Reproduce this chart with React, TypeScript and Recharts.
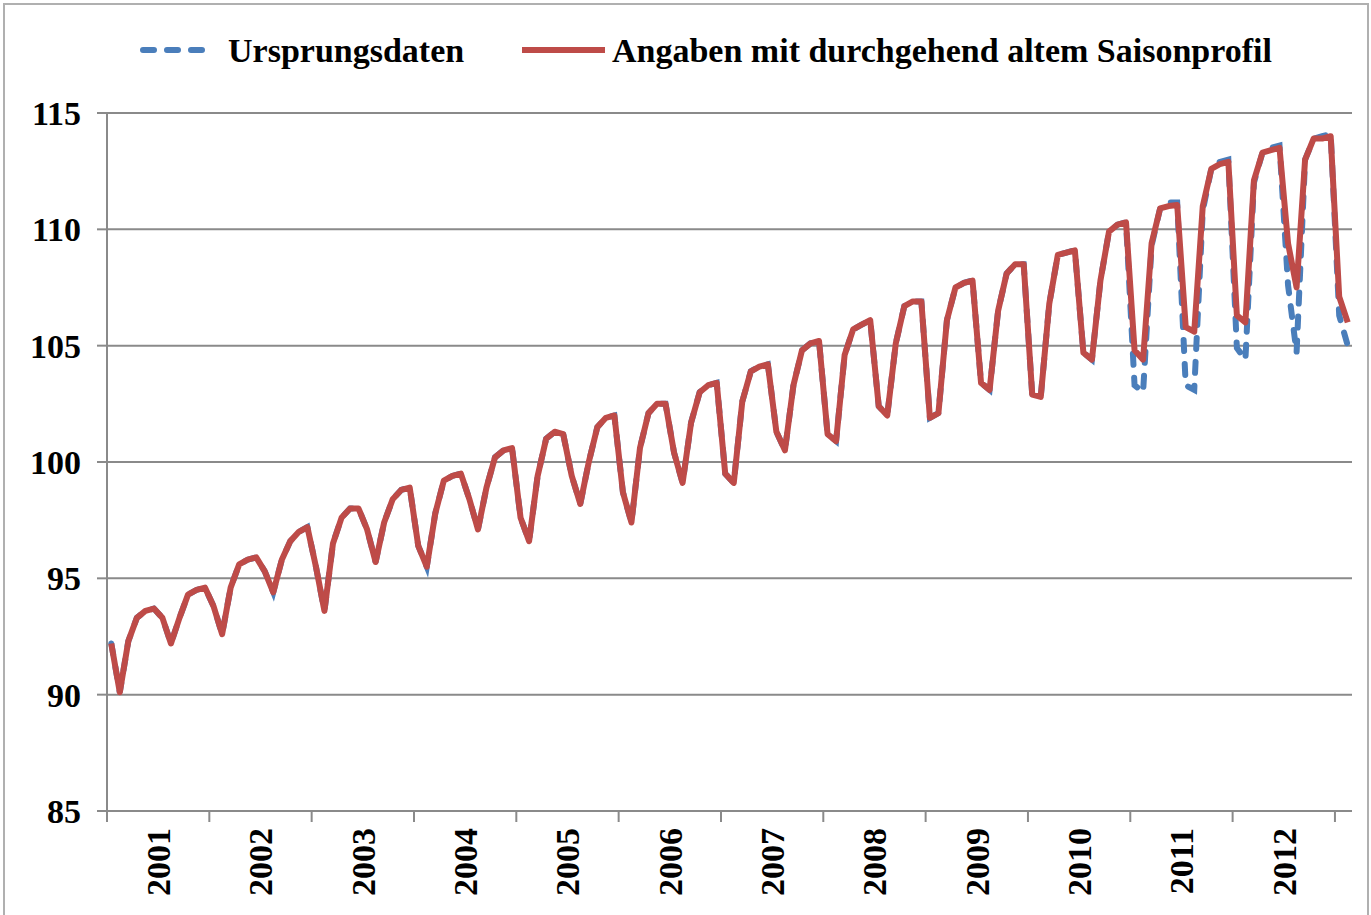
import React from 'react';
import { LineChart, Line, XAxis, YAxis, CartesianGrid, Legend } from 'recharts';

const years = ['2001', '2002', '2003', '2004', '2005', '2006', '2007', '2008', '2009', '2010', '2011', '2012'];

// monthly values Jan 2001 - Feb 2013
const adjusted = [
  92.2, 90.1, 92.3, 93.3, 93.6, 93.7, 93.3, 92.2, 93.3, 94.3, 94.5, 94.6,
  93.8, 92.6, 94.6, 95.6, 95.8, 95.9, 95.3, 94.4, 95.8, 96.6, 97.0, 97.2,
  95.5, 93.6, 96.5, 97.6, 98.0, 98.0, 97.1, 95.7, 97.4, 98.4, 98.8, 98.9,
  96.4, 95.5, 97.8, 99.2, 99.4, 99.5, 98.4, 97.1, 98.9, 100.2, 100.5, 100.6,
  97.6, 96.6, 99.4, 101.0, 101.3, 101.2, 99.4, 98.2, 100.0, 101.5, 101.9, 102.0,
  98.7, 97.4, 100.6, 102.1, 102.5, 102.5, 100.4, 99.1, 101.7, 103.0, 103.3, 103.4,
  99.5, 99.1, 102.6, 103.9, 104.1, 104.2, 101.3, 100.5, 103.3, 104.8, 105.1, 105.2,
  101.2, 100.9, 104.6, 105.7, 105.9, 106.1, 102.4, 102.0, 105.1, 106.7, 106.9, 106.9,
  101.9, 102.1, 106.1, 107.5, 107.7, 107.8, 103.4, 103.1, 106.5, 108.1, 108.5, 108.5,
  102.9, 102.8, 106.8, 108.9, 109.0, 109.1, 104.7, 104.4, 107.8, 109.9, 110.2, 110.3,
  104.8, 104.4, 109.4, 110.9, 111.0, 111.05, 105.8, 105.6, 111.0, 112.6, 112.8, 112.9,
  106.3, 106.0, 112.1, 113.3, 113.4, 113.5, 109.4, 107.5, 113.0, 113.9, 113.9, 114.0,
  107.1, 106.0,
];

const original = [
  92.2, 90.1, 92.3, 93.3, 93.6, 93.7, 93.3, 92.2, 93.3, 94.3, 94.5, 94.6,
  93.8, 92.6, 94.6, 95.6, 95.8, 95.9, 95.3, 94.4, 95.8, 96.6, 97.0, 97.2,
  95.5, 93.6, 96.5, 97.6, 98.0, 98.0, 97.1, 95.7, 97.4, 98.4, 98.8, 98.9,
  96.4, 95.5, 97.8, 99.2, 99.4, 99.5, 98.4, 97.1, 98.9, 100.2, 100.5, 100.6,
  97.6, 96.6, 99.4, 101.0, 101.3, 101.2, 99.4, 98.2, 100.0, 101.5, 101.9, 102.0,
  98.7, 97.4, 100.6, 102.1, 102.5, 102.5, 100.4, 99.1, 101.7, 103.0, 103.3, 103.4,
  99.5, 99.1, 102.6, 103.9, 104.1, 104.2, 101.3, 100.5, 103.3, 104.8, 105.1, 105.2,
  101.2, 100.9, 104.6, 105.7, 105.9, 106.1, 102.4, 102.0, 105.1, 106.7, 106.9, 106.9,
  101.9, 102.1, 106.1, 107.5, 107.7, 107.8, 103.4, 103.1, 106.5, 108.1, 108.5, 108.5,
  102.9, 102.8, 106.8, 108.9, 109.0, 109.1, 104.7, 104.4, 107.8, 109.9, 110.2, 110.3,
  103.3, 103.0, 109.3, 110.9, 111.15, 111.15, 103.3, 103.1, 110.8, 112.6, 112.9, 113.0,
  104.9, 104.4, 112.0, 113.3, 113.5, 113.6, 107.6, 104.7, 113.0, 113.9, 114.0, 114.1,
  106.3, 105.0,
];

const yTicks = [85, 90, 95, 100, 105, 110, 115];
const xTicks = Array.from({ length: 25 }, (_, k) => k * 6);

const legendItems = [
  { label: 'Ursprungsdaten' },
  { label: 'Angaben mit durchgehend altem Saisonprofil' },
];

const data = adjusted.map((v, i) => ({ x: i + 0.5, adj: v, orig: original[i] }));

const FONT = "'Liberation Serif', 'Times New Roman', serif";
const GRID = '#8a8a8a';
const BLUE = '#4A7EBB';
const RED = '#BE4B48';

const XTick = (props: any) => {
  const { x, y, payload } = props;
  const v = payload.value;
  if (v % 12 === 0) {
    return <line x1={x} x2={x} y1={y} y2={y + 11} stroke={GRID} strokeWidth={2} />;
  }
  const label = years[(v - 6) / 12];
  if (!label) return null;
  const ay = y + 17;
  return (
    <text
      x={x}
      y={ay}
      transform={`rotate(-90 ${x} ${ay})`}
      textAnchor="end"
      dy="0.35em"
      fontFamily={FONT}
      fontWeight="bold"
      fontSize={34}
      fill="#000"
    >
      {label}
    </text>
  );
};

const renderLegend = () => (
  <svg width={1371} height={90} style={{ display: 'block' }}>
    <line x1={143} x2={208} y1={50} y2={50} stroke={BLUE} strokeWidth={6} strokeDasharray="11 13" strokeLinecap="round" />
    <text x={228} y={62} fontFamily={FONT} fontWeight="bold" fontSize={34} fill="#000">{legendItems[0].label}</text>
    <line x1={522} x2={605} y1={50} y2={50} stroke={RED} strokeWidth={6} />
    <text x={612} y={62} fontFamily={FONT} fontWeight="bold" fontSize={34} fill="#000">{legendItems[1].label}</text>
  </svg>
);

export default function App() {
  return (
    <div style={{ position: 'absolute', left: 0, top: 0, width: 1371, height: 915, background: '#fff', overflow: 'hidden' }}>
      <div style={{ position: 'absolute', left: 3, top: 3, width: 1362, height: 930, border: '2px solid #b0b0b0' }} />
      <LineChart width={1371} height={915} data={data} margin={{ top: 113, right: 19, bottom: 0, left: 0 }}>
        <CartesianGrid vertical={false} stroke={GRID} strokeWidth={2} />
        <XAxis
          dataKey="x"
          type="number"
          domain={[0, 146]}
          ticks={xTicks}
          interval={0}
          height={104}
          tickSize={0}
          tickMargin={0}
          tickLine={false}
          axisLine={{ stroke: GRID, strokeWidth: 2 }}
          tick={<XTick />}
        />
        <YAxis
          type="number"
          domain={[85, 115]}
          ticks={yTicks}
          interval={0}
          width={107}
          tickSize={10}
          tickMargin={16}
          axisLine={{ stroke: GRID, strokeWidth: 2 }}
          tickLine={{ stroke: GRID, strokeWidth: 2 }}
          tick={{ fontFamily: FONT, fontWeight: 'bold', fontSize: 34, fill: '#000' }}
        />
        <Legend
          verticalAlign="middle"
          align="center"
          layout="horizontal"
          wrapperStyle={{ top: 0, left: 0, width: 1371, height: 90 }}
          content={renderLegend}
        />
        <Line
          dataKey="orig"
          stroke={BLUE}
          strokeWidth={6}
          strokeDasharray="11 13"
          strokeLinecap="round"
          dot={false}
          activeDot={false}
          isAnimationActive={false}
        />
        <Line
          dataKey="adj"
          stroke={RED}
          strokeWidth={6}
          strokeLinejoin="round"
          dot={false}
          activeDot={false}
          isAnimationActive={false}
        />
      </LineChart>
    </div>
  );
}
